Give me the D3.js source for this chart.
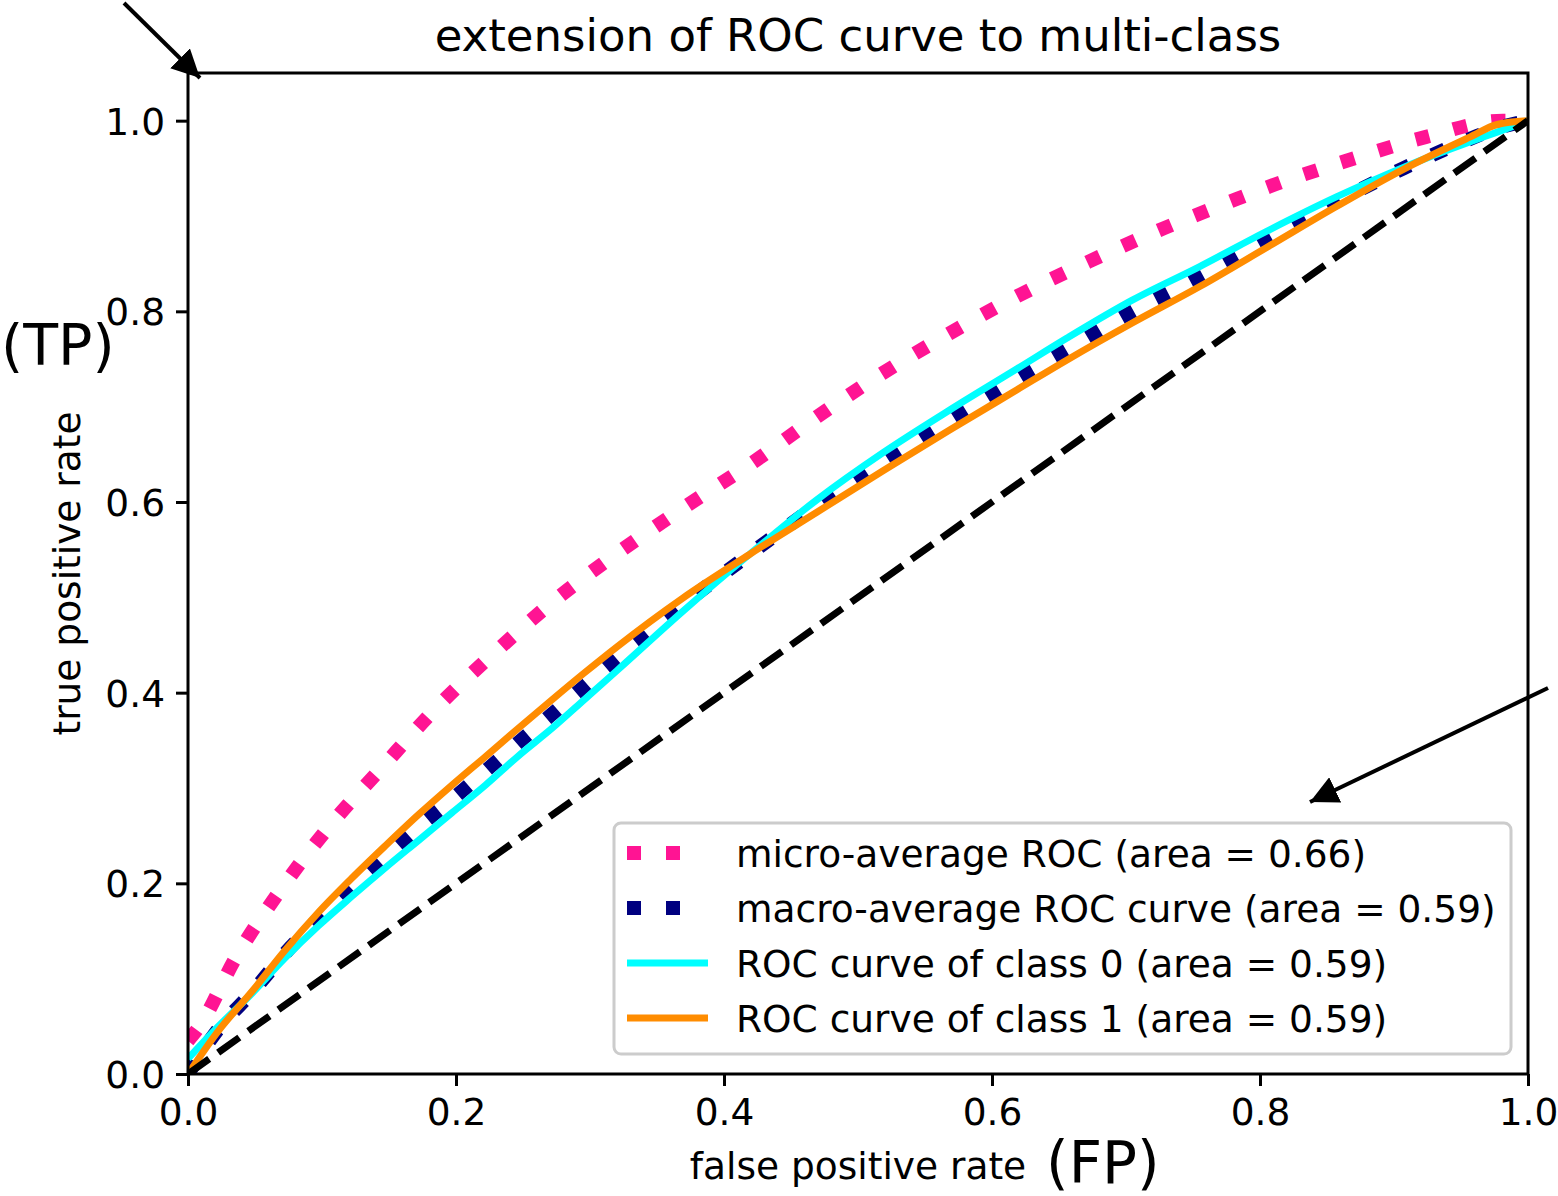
<!DOCTYPE html>
<html><head><meta charset="utf-8">
<script src="https://cdn.jsdelivr.net/npm/d3@7"></script>
<style>body{margin:0;background:#fff}svg{display:block}text{font-family:"DejaVu Sans",sans-serif}</style>
</head><body>
<svg id="c" width="1558" height="1196"></svg>
<script>
const title = "extension of ROC curve to multi-class";
const xLabel = "false positive rate";
const yLabel = "true positive rate";
const xTicks = [0, 0.2, 0.4, 0.6, 0.8, 1.0];
const yTicks = [0, 0.2, 0.4, 0.6, 0.8, 1.0];

const microFpr = [0, 0.0075, 0.036, 0.069, 0.105, 0.145, 0.186, 0.228, 0.272, 0.321, 0.371, 0.421, 0.468, 0.516, 0.566, 0.619, 0.672, 0.728, 0.783, 0.811, 0.867, 0.924, 0.981, 1];
const microTpr = [0.035, 0.048, 0.123, 0.193, 0.259, 0.322, 0.385, 0.441, 0.495, 0.547, 0.595, 0.641, 0.688, 0.733, 0.775, 0.816, 0.852, 0.887, 0.918, 0.933, 0.959, 0.983, 1.0, 1];

const classFpr = [0, 0.022, 0.048, 0.072, 0.097, 0.122, 0.147, 0.172, 0.197, 0.222, 0.246, 0.272, 0.296, 0.320, 0.369, 0.419, 0.469, 0.519, 0.569, 0.619, 0.656, 0.705, 0.755, 0.805, 0.857, 0.907, 0.957, 0.977, 1];
const macroTpr = [0, 0.046, 0.086, 0.126, 0.162, 0.196, 0.228, 0.259, 0.288, 0.318, 0.347, 0.378, 0.407, 0.436, 0.492, 0.545, 0.596, 0.643, 0.687, 0.730, 0.760, 0.800, 0.837, 0.876, 0.915, 0.950, 0.981, 0.992, 1];
const class0Tpr = [0.016, 0.049, 0.085, 0.121, 0.155, 0.186, 0.216, 0.245, 0.274, 0.303, 0.333, 0.363, 0.393, 0.423, 0.485, 0.545, 0.602, 0.652, 0.697, 0.740, 0.772, 0.812, 0.847, 0.884, 0.920, 0.951, 0.978, 0.988, 1];
const class1Tpr = [0, 0.044, 0.087, 0.129, 0.169, 0.205, 0.239, 0.272, 0.303, 0.333, 0.362, 0.393, 0.421, 0.448, 0.499, 0.545, 0.589, 0.633, 0.676, 0.718, 0.749, 0.788, 0.826, 0.867, 0.910, 0.949, 0.983, 0.996, 1];
const chanceFpr = [0, 1];
const chanceTpr = [0, 1];

const seriesNames = ["micro-average ROC (area = 0.66)", "macro-average ROC curve (area = 0.59)", "ROC curve of class 0 (area = 0.59)", "ROC curve of class 1 (area = 0.59)"];
const seriesColors = ["#ff1493", "#000080", "#00ffff", "#ff8c00"];
const annotations = ["(TP)", "(FP)"];

const FS = 37.5;
const svg = d3.select("#c");
const L = 188, R = 1528, T = 73, B = 1074;
const x = d3.scaleLinear().domain([0, 1]).range([L, R]);
const y = d3.scaleLinear().domain([0, 1.05]).range([B, T]);

const defs = svg.append("defs");
defs.append("clipPath").attr("id", "clip")
  .append("rect").attr("x", L).attr("y", T).attr("width", R - L).attr("height", B - T);

const line = d3.line().x(d => x(d[0])).y(d => y(d[1])).curve(d3.curveMonotoneX);
const zip = (a, b) => a.map((v, i) => [v, b[i]]);

const g = svg.append("g").attr("clip-path", "url(#clip)");
const series = [
  {d: zip(microFpr, microTpr), c: seriesColors[0], w: 14, dash: "14,25"},
  {d: zip(classFpr, macroTpr), c: seriesColors[1], w: 14, dash: "14,25"},
  {d: zip(classFpr, class0Tpr), c: seriesColors[2], w: 7, dash: null},
  {d: zip(classFpr, class1Tpr), c: seriesColors[3], w: 7, dash: null},
  {d: zip(chanceFpr, chanceTpr), c: "#000", w: 7, dash: "26,11"}
];
series.forEach(s => {
  g.append("path").attr("d", line(s.d)).attr("fill", "none")
    .attr("stroke", s.c).attr("stroke-width", s.w)
    .attr("stroke-dasharray", s.dash).attr("stroke-linejoin", "round");
});

// axes
const xAxis = d3.axisBottom(x).tickValues(xTicks).tickFormat(d3.format(".1f")).tickSize(12).tickPadding(12);
const yAxis = d3.axisLeft(y).tickValues(yTicks).tickFormat(d3.format(".1f")).tickSize(12).tickPadding(11);
const gx = svg.append("g").attr("transform", `translate(0,${B})`).call(xAxis);
const gy = svg.append("g").attr("transform", `translate(${L},0)`).call(yAxis);
[gx, gy].forEach(a => {
  a.select(".domain").remove();
  a.selectAll(".tick line").attr("stroke", "#000").attr("stroke-width", 3);
  a.selectAll(".tick text").attr("font-size", FS).attr("fill", "#000").attr("font-family", "DejaVu Sans");
});
gy.selectAll(".tick text").attr("dy", "0.36em");

svg.append("rect").attr("x", L).attr("y", T).attr("width", R - L).attr("height", B - T)
  .attr("fill", "none").attr("stroke", "#000").attr("stroke-width", 3);

svg.append("text").attr("x", (L + R) / 2).attr("y", 51).attr("text-anchor", "middle")
  .attr("font-size", 45).text(title);
svg.append("text").attr("x", (L + R) / 2).attr("y", 1179).attr("text-anchor", "middle")
  .attr("font-size", FS).text(xLabel);
svg.append("text").attr("transform", `translate(80,${(T + B) / 2}) rotate(-90)`).attr("text-anchor", "middle")
  .attr("font-size", FS).text(yLabel);

// legend
const lg = svg.append("g");
lg.append("rect").attr("x", 614).attr("y", 823).attr("width", 897).attr("height", 231).attr("rx", 7)
  .attr("fill", "#fff").attr("fill-opacity", 0.8).attr("stroke", "#cccccc").attr("stroke-width", 3);
seriesNames.forEach((name, i) => {
  const cy = 853 + i * 55;
  const dotted = i < 2;
  lg.append("line").attr("x1", 627).attr("x2", dotted ? 700 : 708).attr("y1", cy).attr("y2", cy)
    .attr("stroke", seriesColors[i]).attr("stroke-width", dotted ? 14 : 7)
    .attr("stroke-dasharray", dotted ? "14,25" : null);
  lg.append("text").attr("x", 736).attr("y", cy).attr("dy", "0.36em").attr("font-size", FS).text(name);
});

// annotations
svg.append("text").attr("x", 1).attr("y", 365).attr("font-family", "Liberation Sans, Arial, sans-serif")
  .attr("font-size", 57).text(annotations[0]);
svg.append("text").attr("x", 1046).attr("y", 1183).attr("font-family", "Liberation Sans, Arial, sans-serif")
  .attr("font-size", 58).text(annotations[1]);

defs.append("marker").attr("id", "ah").attr("viewBox", "0 0 10 10").attr("refX", 10).attr("refY", 5)
  .attr("markerWidth", 7).attr("markerHeight", 7).attr("markerUnits", "strokeWidth").attr("orient", "auto")
  .append("path").attr("d", "M0,0 L10,5 L0,10 Z").attr("fill", "#000");
svg.append("line").attr("x1", 124).attr("y1", 3).attr("x2", 200).attr("y2", 78)
  .attr("stroke", "#000").attr("stroke-width", 4).attr("marker-end", "url(#ah)");
svg.append("line").attr("x1", 1548).attr("y1", 688).attr("x2", 1310).attr("y2", 802)
  .attr("stroke", "#000").attr("stroke-width", 4).attr("marker-end", "url(#ah)");
</script>
</body></html>
